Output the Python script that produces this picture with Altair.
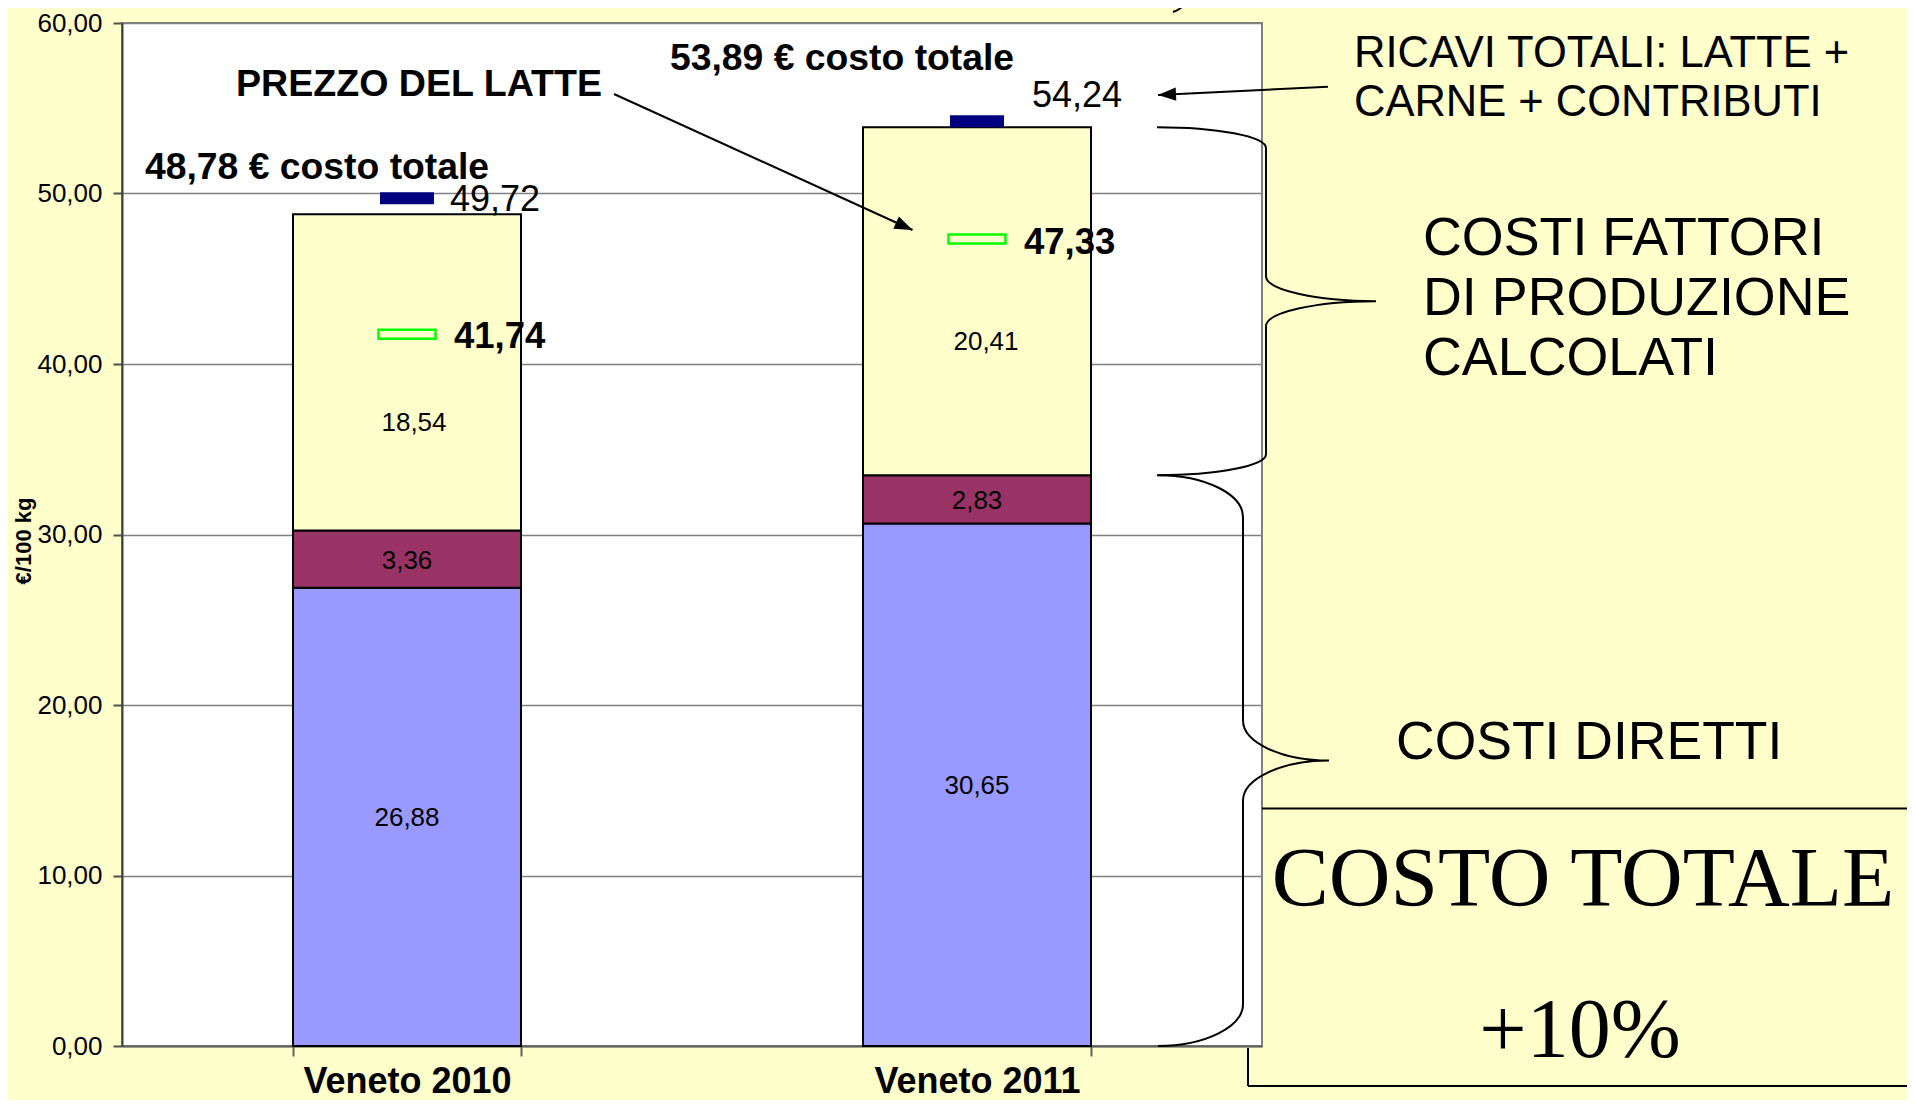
import math
import altair as alt
import pandas as pd

# ---------------- data ----------------
categories = ["Veneto 2010", "Veneto 2011"]
components = ["Costi diretti", "Altri costi diretti", "Costi fattori di produzione calcolati"]
costi_diretti = [26.88, 30.65]
altri_costi_diretti = [3.36, 2.83]
costi_fattori = [18.54, 20.41]
ricavi_totali = [49.72, 54.24]
prezzo_latte = [41.74, 47.33]
y_ticks = [0, 10, 20, 30, 40, 50, 60]
component_colors = ["#9999FF", "#993366", "#FFFFCC"]

rows = []
for i, cat in enumerate(categories):
    for j, (comp, vals) in enumerate(zip(components, [costi_diretti, altri_costi_diretti, costi_fattori])):
        rows.append({"category": cat, "component": comp, "ord": j, "value": vals[i]})
df_long = pd.DataFrame(rows)
df_mark = pd.DataFrame({"category": categories, "ricavi": ricavi_totali, "prezzo": prezzo_latte})
one = pd.DataFrame({"a": [0]})

# ---------------- layout ----------------
W, H = 1140, 1023
YMAX = 60
PPU = H / YMAX
FONT = "Liberation Sans"
SERIF = "Liberation Serif"


def fmt(field):
    return f"replace(format(datum.{field}, '.2f'), '.', ',')"


xscale = alt.Scale(domain=categories, paddingInner=0.6, paddingOuter=0.3)
yscale = alt.Scale(domain=[0, YMAX], nice=False, zero=True)
xaxis = alt.Axis(
    title=None, labelAngle=0, labelFont=FONT, labelFontSize=36, labelFontWeight="bold",
    labelColor="black", tickBand="extent", tickSize=10, tickColor="#606060", tickWidth=2,
    domainColor="#606060", domainWidth=2, labelPadding=8, grid=False, labelLimit=0,
)
yaxis = alt.Axis(
    title=None, values=y_ticks, labelExpr=fmt("value"), labelFont=FONT, labelFontSize=26,
    labelColor="black", tickSize=9, tickColor="#505050", tickWidth=2, labelPadding=11,
    gridColor="#808080", gridWidth=1.5, domainColor="#404040", domainWidth=2,
)
X = alt.X("category:N", scale=xscale, axis=xaxis, title=None)


def Y(field):
    return alt.Y(field, scale=yscale, axis=yaxis, title=None)


stacked = alt.Chart(df_long).transform_stack(
    stack="value", groupby=["category"], sort=[alt.SortField("ord", order="ascending")], as_=["v0", "v1"]
).transform_calculate(mid="(datum.v0 + datum.v1) / 2", lbl=fmt("value"))

bars = stacked.mark_bar(stroke="black", strokeWidth=2, opacity=1).encode(
    x=X, y=Y("v0:Q"), y2="v1:Q",
    color=alt.Color("component:N", scale=alt.Scale(domain=components, range=component_colors), legend=None),
)

seg_low = stacked.transform_filter("datum.ord < 2").mark_text(
    font=FONT, fontSize=26, color="black", dy=1.5
).encode(x=X, y=Y("mid:Q"), text="lbl:N")

# manual label offsets (dx, dy) as in the reference
YELLOW_OFF = {"Veneto 2010": (7, 51), "Veneto 2011": (9, 41)}
RICAVI_OFF = {"Veneto 2010": (43, 2), "Veneto 2011": (55, -25)}
PREZZO_OFF = {"Veneto 2010": (47, 2.5), "Veneto 2011": (47, 3.5)}
TOTAL_OFF = {"Veneto 2010": (-262, -46), "Veneto 2011": (-307, -68)}
BOLD = 37.3

layers_labels = [seg_low]
for cat in categories:
    f = f"datum.category == '{cat}'"
    dx, dy = YELLOW_OFF[cat]
    layers_labels.append(
        stacked.transform_filter(f"datum.ord == 2 && {f}").mark_text(
            font=FONT, fontSize=26, color="black", dx=dx, dy=dy
        ).encode(x=X, y=Y("mid:Q"), text="lbl:N")
    )
    base_m = alt.Chart(df_mark).transform_filter(f).transform_calculate(
        rl=fmt("ricavi"), pl=fmt("prezzo")
    )
    dx, dy = RICAVI_OFF[cat]
    layers_labels.append(
        base_m.mark_text(font=FONT, fontSize=36, color="black", align="left", dx=dx, dy=dy).encode(
            x=X, y=Y("ricavi:Q"), text="rl:N"
        )
    )
    dx, dy = PREZZO_OFF[cat]
    layers_labels.append(
        base_m.mark_text(font=FONT, fontSize=36.5, fontWeight="bold", color="black", align="left", dx=dx, dy=dy).encode(
            x=X, y=Y("prezzo:Q"), text="pl:N"
        )
    )
    dx, dy = TOTAL_OFF[cat]
    layers_labels.append(
        alt.Chart(df_long).transform_filter(f).transform_aggregate(
            total="sum(value)", groupby=["category"]
        ).transform_calculate(lbl=fmt("total") + " + ' € costo totale'").mark_text(
            font=FONT, fontSize=BOLD, fontWeight="bold", color="black", align="left", dx=dx, dy=dy
        ).encode(x=X, y=Y("total:Q"), text="lbl:N")
    )

ricavi_mark = alt.Chart(df_mark).mark_tick(
    color="#000080", thickness=12, size=54, opacity=1, orient="horizontal"
).encode(x=X, y=Y("ricavi:Q"))
prezzo_mark = alt.Chart(df_mark).mark_tick(
    color="#00FF00", filled=False, strokeWidth=2.5, thickness=9, size=57, opacity=1, orient="horizontal"
).encode(x=X, y=Y("prezzo:Q"))


# ---------------- annotations ----------------
def note(text, x, y, size, weight="normal", align="left", font=FONT):
    return alt.Chart(one).mark_text(
        text=text, font=font, fontSize=size, fontWeight=weight, align=align, baseline="middle", color="black"
    ).encode(x=alt.value(x), y=alt.value(y))


def line(x1, y1, x2, y2, width=2):
    return alt.Chart(one).mark_rule(color="black", strokeWidth=width).encode(
        x=alt.value(x1), y=alt.value(y1), x2=alt.value(x2), y2=alt.value(y2)
    )


HEAD = "M0,0 L-2,-0.75 L-2,0.75 Z"


def arrow(x1, y1, x2, y2):
    ang = math.degrees(math.atan2(y2 - y1, x2 - x1)) % 360
    head = alt.Chart(one).mark_point(
        shape=HEAD, size=324, filled=True, color="black", opacity=1, angle=ang
    ).encode(x=alt.value(x2), y=alt.value(y2))
    return [line(x1, y1, x2, y2), head]


def brace(ex, top, bottom, spine, tip, rc, rt, k=0.55):
    h = (top - bottom) * PPU
    m = h / 2
    p = (
        f"M0,0 C{k*spine:.1f},0 {spine:.1f},{rc*(1-k):.1f} {spine:.1f},{rc:.1f} "
        f"L{spine:.1f},{m-rt:.1f} "
        f"C{spine:.1f},{m-rt*(1-k):.1f} {tip-k*(tip-spine):.1f},{m:.1f} {tip:.1f},{m:.1f} "
        f"C{tip-k*(tip-spine):.1f},{m:.1f} {spine:.1f},{m+rt*(1-k):.1f} {spine:.1f},{m+rt:.1f} "
        f"L{spine:.1f},{h-rc:.1f} "
        f"C{spine:.1f},{h-rc*(1-k):.1f} {k*spine:.1f},{h:.1f} 0,{h:.1f}"
    )
    return alt.Chart(one).mark_point(
        shape=p, size=4, filled=False, color="black", strokeWidth=2, opacity=1
    ).encode(x=alt.value(ex), y=alt.datum(top))


top_2011 = costi_diretti[1] + altri_costi_diretti[1] + costi_fattori[1]
mid_2011 = costi_diretti[1] + altri_costi_diretti[1]

annotations = [
    # box behind the plot (only its visible edges)
    line(W, 785.5, 1800, 785.5),
    line(1126, H + 2, 1126, 1063),
    line(1126, 1063, 1800, 1063),
    brace(1035, top_2011, mid_2011, 109, 219, 21, 25),
    brace(1036, mid_2011, 0, 85, 171, 42, 40),
    alt.Chart(one).mark_point(
        shape="M1066,-26 Q1063,-15 1051,-11", size=4, filled=False, color="black", strokeWidth=2, opacity=1
    ).encode(x=alt.value(0), y=alt.value(0)),
    note("PREZZO DEL LATTE", 114, 62, 37.6, "bold"),
    note("RICAVI TOTALI: LATTE +", 1232, 30.5, 43.5),
    note("CARNE + CONTRIBUTI", 1232, 79.5, 43.5),
    note("COSTI FATTORI", 1301, 216, 53.8),
    note("DI PRODUZIONE", 1301, 276, 53.8),
    note("CALCOLATI", 1301, 336, 53.8),
    note("COSTI DIRETTI", 1274, 720, 53.5),
    note("COSTO TOTALE", 1461, 857, 85.5, align="center", font=SERIF),
    note("+10%", 1458, 1009, 84, align="center", font=SERIF),
    alt.Chart(one).mark_text(
        text="€/100 kg", font=FONT, fontSize=22, fontWeight="bold", angle=270,
        align="center", baseline="alphabetic", color="black"
    ).encode(x=alt.value(-91), y=alt.value(518)),
]
annotations += arrow(492, 71, 790.5, 207)
annotations += arrow(1206, 63.7, 1036, 72)

chart = alt.layer(
    bars, ricavi_mark, prezzo_mark, *layers_labels, *annotations
).properties(
    width=W, height=H,
    padding={"left": 114, "top": 15, "right": 645, "bottom": 54},
    autosize=alt.AutoSizeParams(type="none"),
    background="#FFFFCC",
).configure_view(fill="white", stroke="#808080", strokeWidth=2)

chart.save("out.html", embed_options={"renderer": "svg", "actions": False})
